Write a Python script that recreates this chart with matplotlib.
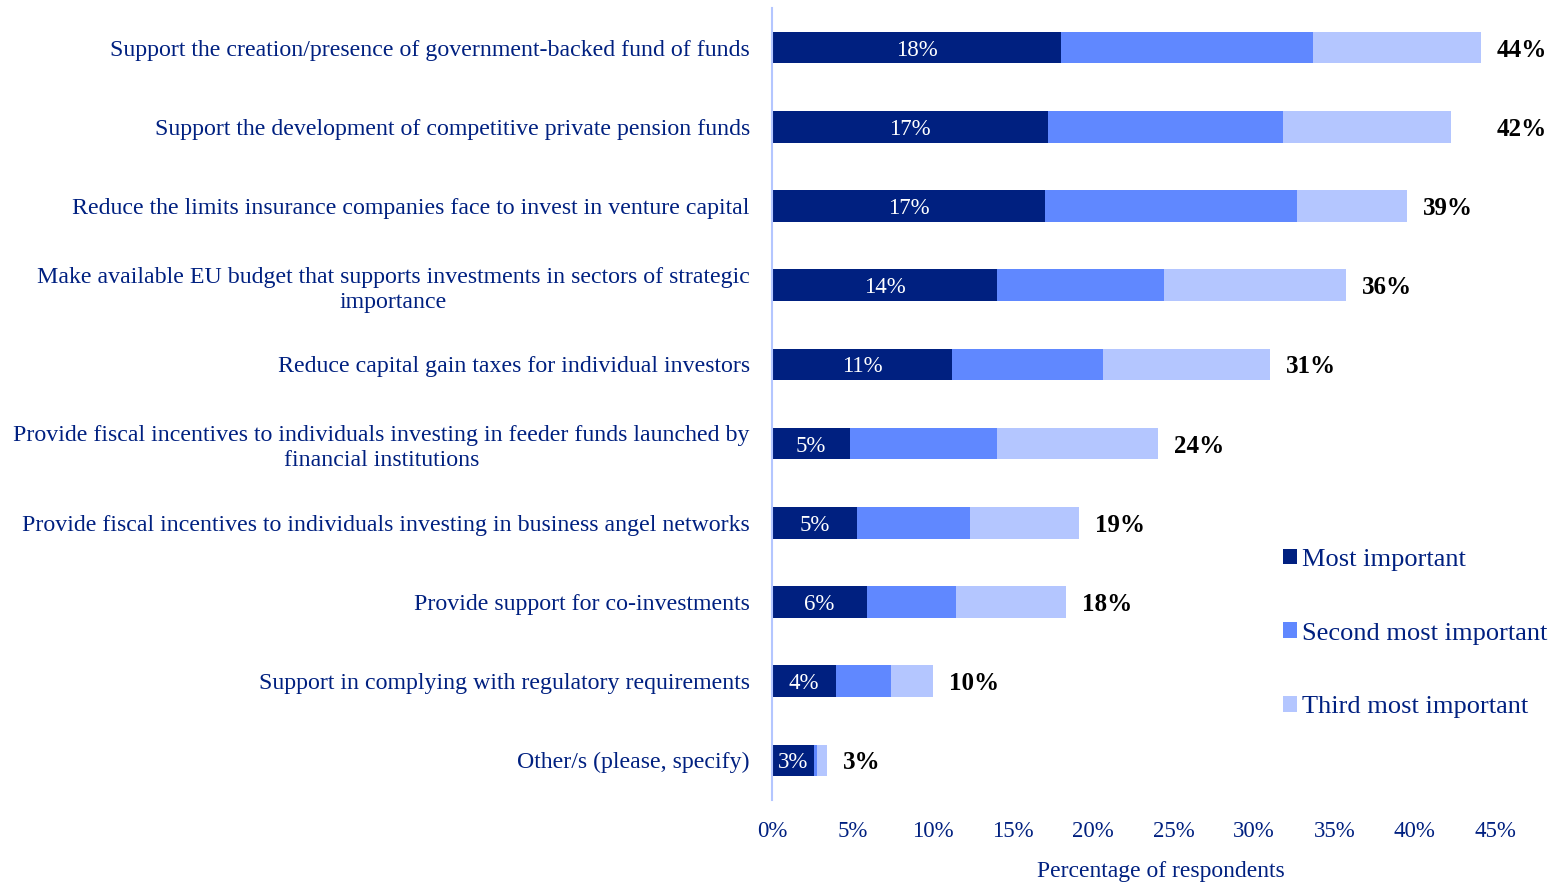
import matplotlib.pyplot as plt
import numpy as np

plt.rcParams['font.family'] = ['Liberation Serif', 'DejaVu Serif']

categories = [
    "Support the creation/presence of government-backed fund of funds",
    "Support the development of competitive private pension funds",
    "Reduce the limits insurance companies face to invest in venture capital",
    "Make available EU budget that supports investments in sectors of strategic\nimportance",
    "Reduce capital gain taxes for individual investors",
    "Provide fiscal incentives to individuals investing in feeder funds launched by\nfinancial institutions",
    "Provide fiscal incentives to individuals investing in business angel networks",
    "Provide support for co-investments",
    "Support in complying with regulatory requirements",
    "Other/s (please, specify)",
]
most = [18.0, 17.2, 17.0, 14.0, 11.2, 4.85, 5.3, 5.9, 4.0, 2.6]
second = [15.7, 14.6, 15.7, 10.4, 9.4, 9.15, 7.0, 5.55, 3.4, 0.2]
third = [10.4, 10.45, 6.8, 11.3, 10.4, 10.0, 6.8, 6.85, 2.6, 0.6]
most_labels = ["18%", "17%", "17%", "14%", "11%", "5%", "5%", "6%", "4%", "3%"]
total_labels = ["44%", "42%", "39%", "36%", "31%", "24%", "19%", "18%", "10%", "3%"]
series_names = ["Most important", "Second most important", "Third most important"]

navy = "#002080"
colors = ["#002080", "#6088ff", "#b4c6ff"]

fig = plt.figure(figsize=(15.52, 8.85), dpi=100)
ax = fig.add_axes([772 / 1552, 1 - 800 / 885, (1495 - 772) / 1552, 792 / 885])

y = np.arange(len(categories))
most = np.array(most)
second = np.array(second)
third = np.array(third)
totals = most + second + third
h = 0.4
b1 = ax.barh(y, most, height=h, color=colors[0], label=series_names[0])
b2 = ax.barh(y, second, left=most, height=h, color=colors[1], label=series_names[1])
b3 = ax.barh(y, third, left=most + second, height=h, color=colors[2], label=series_names[2])

for i in range(len(categories)):
    ax.text(most[i] / 2, y[i], most_labels[i], ha='center', va='center_baseline',
            color='white', fontsize=16.5)
    lx = totals[i]
    if i == 1:
        # in the original, the second total sits aligned with the first one
        lx = totals[0]
    ax.text(lx + 1.0, y[i], total_labels[i], ha='left', va='center_baseline',
            color='black', fontsize=18, fontweight='bold')

ax.set_xlim(0, 45)
ax.set_ylim(len(categories) - 0.5, -0.5)
ax.set_xticks(np.arange(0, 46, 5))
ax.set_xticklabels([f"{v}%" for v in range(0, 46, 5)], fontsize=16.5)
ax.set_yticks(y)
ax.set_yticklabels(categories, ha='right', multialignment='center',
                   fontsize=17.2, linespacing=1.25)
ax.tick_params(axis='both', length=0, labelcolor=navy)
ax.tick_params(axis='x', pad=15)
ax.tick_params(axis='y', pad=16)
for lbl in ax.get_yticklabels():
    lbl.set_va('center_baseline')
for s in ['top', 'right', 'bottom']:
    ax.spines[s].set_visible(False)
ax.spines['left'].set_color('#b4c6ff')
ax.spines['left'].set_linewidth(1.5)

fig.text(1161 / 1552, 1 - 872 / 885, "Percentage of respondents", fontsize=17,
         color=navy, ha='center', va='center')

leg = fig.legend(handles=[b1, b2, b3], loc='upper left',
                 bbox_to_anchor=(1272 / 1552, 1 - 538 / 885), frameon=False,
                 fontsize=19, labelspacing=1.95, handlelength=0.55, handleheight=0.55,
                 handletextpad=0.2, borderaxespad=0)
for t in leg.get_texts():
    t.set_color(navy)

fig.savefig("out.png", dpi=100)
